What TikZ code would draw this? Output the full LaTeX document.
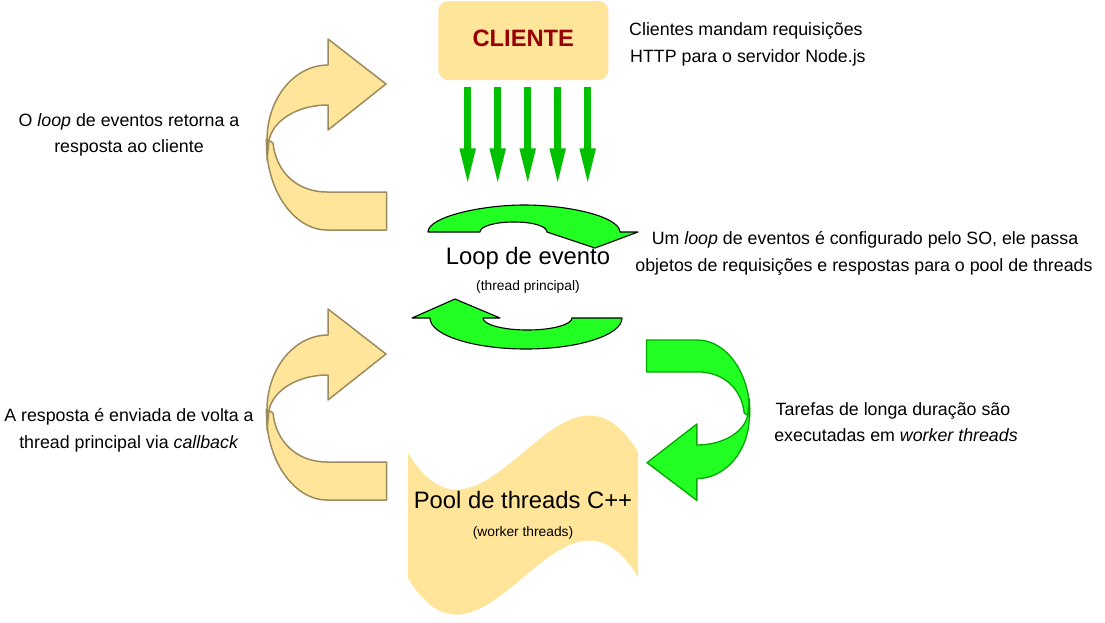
\documentclass[tikz,border=0pt]{standalone}
\usepackage{fontspec}
\setmainfont{Liberation Sans}
\usetikzlibrary{arrows.meta}
\definecolor{ylwfill}{HTML}{FFE599}
\definecolor{ylwdraw}{HTML}{9C8B5E}
\definecolor{grnfill}{HTML}{22FF22}
\definecolor{grndraw}{HTML}{00A800}
\definecolor{reqgreen}{HTML}{00C000}
\definecolor{clientred}{HTML}{990000}
\newcommand{\uturnshape}[3]{%
  \filldraw[fill=#1,draw=#2,line width=#3,line join=round]
    (266.5,139) .. controls (265,190) and (294,230) .. (327,230)
    -- (386.7,230) -- (386.7,192) -- (327,192)
    .. controls (297,192) and (276,172) .. (273,143) -- cycle;
  \filldraw[fill=#1,draw=#2,line width=#3,line join=round]
    (267,160) -- (267,140) .. controls (267,98.6) and (294.3,65) .. (328,65)
    -- (328,39) -- (386,84) -- (328,130) -- (328,105)
    .. controls (295,105) and (269,123) .. (268.5,145) -- cycle;
}
\begin{document}
\begin{tikzpicture}[x=1pt,y=-1pt,
  desc/.style={font=\fontsize{17.8}{20}\selectfont, anchor=base, inner sep=0pt},
  descl/.style={desc, anchor=base west},
  biglbl/.style={font=\fontsize{23.8}{26}\selectfont, anchor=base, inner sep=0pt},
  smalllbl/.style={font=\fontsize{13.8}{16}\selectfont, anchor=base, inner sep=0pt},
  clientbox/.style={fill=ylwfill, rounded corners=10pt, minimum width=170pt, minimum height=79pt, inner sep=0pt},
  clientlbl/.style={font=\bfseries\fontsize{23.7}{26}\selectfont, text=clientred, anchor=base, inner sep=0pt},
  reqarrow/.style={draw=reqgreen, line width=6.7pt, -{Triangle[width=14.3pt,length=37.7pt]}},
  loopshape/.style={fill=grnfill, draw=black, line width=1.1pt, line join=round},
  poolshape/.style={fill=ylwfill}
]
\useasboundingbox (0,0) rectangle (1105,622);
\fill[white] (0,0) rectangle (1105,622);

% client box
\node[clientbox] (client) at (523.3,40.5) {};
\node[clientlbl] (clientname) at (523.3,46.7) {CLIENTE};

% request arrows
\foreach \i/\x in {1/467.7,2/497.7,3/527.7,4/557.7,5/587.7} {
  \coordinate (rs\i) at (\x,87.3);
  \coordinate (re\i) at (\x,186);
  \draw[reqarrow] (rs\i) -- (re\i);
}

% event loop arrows
\filldraw[loopshape] (428,232) .. controls (428,217) and (481,205) .. (524,205)
  .. controls (567,205) and (619,216) .. (620,232) -- (638,232) -- (595,248) -- (547,232)
  .. controls (547,226.5) and (534,222) .. (514,222) .. controls (494,222) and (480,226.5) .. (480,232) -- cycle;
\filldraw[loopshape] (430,318) -- (412,318) -- (455,299) -- (500,318) -- (483,318)
  .. controls (483,324.6) and (503,330) .. (527.5,330) .. controls (552,330) and (572,324.6) .. (572,318)
  -- (622,318) .. controls (622,335) and (579,349) .. (526,349) .. controls (473,349) and (430,335) .. (430,318) -- cycle;

\node[biglbl] (loop) at (528,264) {Loop de evento};
\node[smalllbl] (loopsub) at (528,290) {(thread principal)};

% pool of threads
\fill[poolshape] (408,453) .. controls (485,580) and (561,325) .. (638,452) -- (638,577)
  .. controls (561,450) and (485,705) .. (408,578) -- cycle;
\node[biglbl] (pool) at (523,508) {Pool de threads C++};
\node[smalllbl] (poolsub) at (523,536) {(worker threads)};

% yellow u-turn arrows
\uturnshape{ylwfill}{ylwdraw}{1.5pt}
\begin{scope}[shift={(0,270)}]
  \uturnshape{ylwfill}{ylwdraw}{1.5pt}
\end{scope}
% green u-turn arrow (rotated)
\begin{scope}[shift={(978.96,533.2)}, xscale=-0.86, yscale=-0.84]
  \uturnshape{grnfill}{grndraw}{1.3pt}
\end{scope}

% descriptions
\node[descl] (tr1) at (629,35) {Clientes mandam requisições};
\node[descl] (tr2) at (630,62) {HTTP para o servidor Node.js};
\node[desc] (mr1) at (865,244) {Um \textit{loop} de eventos é configurado pelo SO, ele passa};
\node[desc] (mr2) at (864,271) {objetos de requisições e respostas para o pool de threads};
\node[desc] (lt1) at (129,126) {O \textit{loop} de eventos retorna a};
\node[desc] (lt2) at (129,152.5) {resposta ao cliente};
\node[desc] (lb1) at (129,421) {A resposta é enviada de volta a};
\node[desc] (lb2) at (129,448) {thread principal via \textit{callback}};
\node[desc] (rb1) at (893,415) {Tarefas de longa duração são};
\node[desc] (rb2) at (896,441) {executadas em \textit{worker threads}};
\end{tikzpicture}
\end{document}
